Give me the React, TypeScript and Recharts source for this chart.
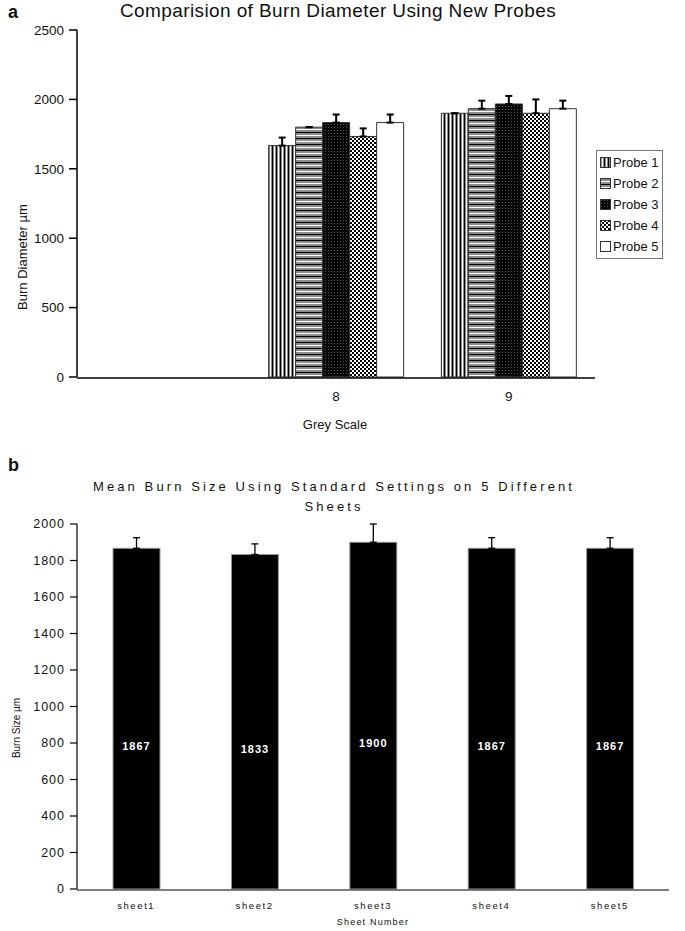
import React from 'react';
import { BarChart, Bar, XAxis, YAxis, ErrorBar, Legend, LabelList } from 'recharts';

// ---------- Panel a data ----------
const greyScales = ['', '8', '9'];
const probeNames = ['Probe 1', 'Probe 2', 'Probe 3', 'Probe 4', 'Probe 5'];
const probe1 = [null, 1667, 1900];
const probe2 = [null, 1800, 1933];
const probe3 = [null, 1833, 1967];
const probe4 = [null, 1733, 1900];
const probe5 = [null, 1833, 1933];
const probe1Err = [null, 58, 0];
const probe2Err = [null, 0, 58];
const probe3Err = [null, 58, 58];
const probe4Err = [null, 58, 100];
const probe5Err = [null, 58, 58];
const yTicksA = [0, 500, 1000, 1500, 2000, 2500];
const boundTicksA = [0, 1, 2, 3];

// ---------- Panel b data ----------
const sheets = ['sheet1', 'sheet2', 'sheet3', 'sheet4', 'sheet5'];
const sheetMeans = [1867, 1833, 1900, 1867, 1867];
const sheetErr = [58, 58, 100, 58, 58];
const yTicksB = [0, 200, 400, 600, 800, 1000, 1200, 1400, 1600, 1800, 2000];
const boundTicksB = [0, 1, 2, 3, 4, 5];

const probeValues = [probe1, probe2, probe3, probe4, probe5];
const probeErrors = [probe1Err, probe2Err, probe3Err, probe4Err, probe5Err];

const dataA = greyScales.map((g, i) => {
  const row: any = { grey: g };
  probeValues.forEach((vals, k) => {
    row['p' + k] = vals[i];
    const e = probeErrors[k][i];
    row['e' + k] = e == null ? null : [0, e];
  });
  return row;
});

const dataB = sheets.map((s, i) => ({ sheet: s, mean: sheetMeans[i], err: [0, sheetErr[i]] }));

const FONT = '"Liberation Sans", Arial, Helvetica, sans-serif';

const Patterns = () => (
  <defs>
    <pattern id="pat0" width="4" height="4" patternUnits="userSpaceOnUse">
      <rect width="4" height="4" fill="#8c8c8c" />
      <rect x="0" width="1" height="4" fill="#000" />
      <rect x="2" width="1" height="4" fill="#fff" />
    </pattern>
    <pattern id="pat1" width="4" height="6" patternUnits="userSpaceOnUse">
      <rect width="4" height="6" fill="#8c8c8c" />
      <rect y="0" width="4" height="1" fill="#000" />
      <rect y="3" width="4" height="1" fill="#fff" />
    </pattern>
    <pattern id="pat2" width="3" height="3" patternUnits="userSpaceOnUse">
      <rect width="3" height="3" fill="#050505" />
      <rect x="1" y="1" width="1" height="1" fill="#555" />
    </pattern>
    <pattern id="pat3" width="4" height="4" patternUnits="userSpaceOnUse">
      <rect width="4" height="4" fill="#fff" />
      <rect x="0" y="0" width="2" height="2" fill="#000" />
      <rect x="2" y="2" width="2" height="2" fill="#000" />
    </pattern>
    <pattern id="pat4" width="4" height="4" patternUnits="userSpaceOnUse">
      <rect width="4" height="4" fill="#fff" />
    </pattern>
  </defs>
);

const renderLegendA = () => (
  <div
    style={{
      border: '1px solid #777',
      background: '#fff',
      padding: '1px 3px',
      fontFamily: FONT,
      fontSize: 13,
      color: '#111',
      lineHeight: '21px',
    }}
  >
    {probeNames.map((n, i) => (
      <div key={n} style={{ display: 'flex', alignItems: 'center', height: 21, whiteSpace: 'nowrap' }}>
        <svg width={11} height={11} style={{ display: 'block' }}>
          <rect x={0.5} y={0.5} width={10} height={10} fill={`url(#pat${i})`} stroke="#333" />
        </svg>
        <span style={{ marginLeft: 2 }}>{n}</span>
      </div>
    ))}
  </div>
);

const yLabelA = (props: any) => {
  const { viewBox } = props;
  const cx = viewBox.x + 22;
  const cy = 257;
  return (
    <text
      x={cx}
      y={cy}
      transform={`rotate(-90 ${cx} ${cy})`}
      textAnchor="middle"
      dominantBaseline="central"
      fontFamily={FONT}
      fontSize={13}
      fill="#111"
    >
      Burn Diameter µm
    </text>
  );
};

const xLabelA = (props: any) => {
  const { viewBox } = props;
  return (
    <text
      x={335}
      y={viewBox.y + 47}
      textAnchor="middle"
      dominantBaseline="central"
      fontFamily={FONT}
      fontSize={13}
      fill="#111"
    >
      Grey Scale
    </text>
  );
};

const yLabelB = (props: any) => {
  const { viewBox } = props;
  const cx = viewBox.x + 16;
  const cy = 258;
  return (
    <text
      x={cx}
      y={cy}
      transform={`rotate(-90 ${cx} ${cy})`}
      textAnchor="middle"
      dominantBaseline="central"
      fontFamily={FONT}
      fontSize={10}
      fill="#111"
    >
      Burn Size µm
    </text>
  );
};

const xLabelB = (props: any) => {
  const { viewBox } = props;
  return (
    <text
      x={viewBox.x + viewBox.width / 2}
      y={viewBox.y + 33}
      textAnchor="middle"
      dominantBaseline="central"
      fontFamily={FONT}
      fontSize={9}
      letterSpacing={1.2}
      fill="#111"
    >
      Sheet Number
    </text>
  );
};

const sheetLabel = (props: any) => {
  const { x, y, width, height, value } = props;
  return (
    <text
      x={x + width / 2}
      y={y + height * 0.58}
      textAnchor="middle"
      dominantBaseline="central"
      fill="#fff"
      fontFamily={FONT}
      fontSize={11}
      fontWeight="bold"
      letterSpacing={1}
    >
      {value}
    </text>
  );
};

export default function App() {
  return (
    <div style={{ position: 'absolute', left: 0, top: 0, width: 685, height: 931, background: '#fff', fontFamily: FONT }}>
      {/* Panel a */}
      <div style={{ position: 'absolute', left: 8, top: 2, fontSize: 18, fontWeight: 'bold', color: '#111' }}>a</div>
      <div
        style={{
          position: 'absolute',
          left: 0,
          top: 0,
          width: 676,
          textAlign: 'center',
          fontSize: 19,
          letterSpacing: 0.4,
          color: '#111',
        }}
      >
        Comparision of Burn Diameter Using New Probes
      </div>
      <div style={{ position: 'absolute', left: 0, top: 0 }}>
        <BarChart width={685} height={450} data={dataA} margin={{ top: 30, right: 90, bottom: 71, left: 0 }} barGap={0}>
          <Patterns />
          <XAxis
            xAxisId="bound"
            type="number"
            domain={[0, greyScales.length]}
            ticks={boundTicksA}
            height={1}
            tick={false}
            tickSize={7}
            axisLine={{ stroke: '#000', strokeWidth: 1.5 }}
            tickLine={{ stroke: '#000', strokeWidth: 1.5 }}
            allowDataOverflow
          />
          <XAxis
            dataKey="grey"
            height={1}
            axisLine={false}
            tickLine={false}
            tickSize={6}
            tickMargin={8}
            tick={{ fill: '#111', fontSize: 13.5, fontFamily: FONT }}
            interval={0}
            label={xLabelA}
          />
          <YAxis
            width={77}
            domain={[0, 2500]}
            ticks={yTicksA}
            tickSize={8}
            tickMargin={5}
            axisLine={{ stroke: '#000', strokeWidth: 1.5 }}
            tickLine={{ stroke: '#000', strokeWidth: 1.5 }}
            tick={{ fill: '#111', fontSize: 13.5, fontFamily: FONT }}
            label={yLabelA}
          />
          {probeNames.map((n, k) => (
            <Bar
              key={n}
              name={n}
              dataKey={'p' + k}
              fill={`url(#pat${k})`}
              stroke="#333"
              strokeWidth={1}
              barSize={27}
              isAnimationActive={false}
            >
              <ErrorBar dataKey={'e' + k} width={3.5} stroke="#000" strokeWidth={2} direction="y" />
            </Bar>
          ))}
          <Legend
            layout="vertical"
            align="center"
            verticalAlign="middle"
            wrapperStyle={{ left: 596, top: 150, width: 'auto', height: 'auto' }}
            content={renderLegendA}
          />
        </BarChart>
      </div>

      {/* Panel b */}
      <div style={{ position: 'absolute', left: 8, top: 455, fontSize: 18, fontWeight: 'bold', color: '#111' }}>b</div>
      <div
        style={{
          position: 'absolute',
          left: 0,
          top: 477,
          width: 668,
          textAlign: 'center',
          fontSize: 13,
          letterSpacing: 3.1,
          lineHeight: '20px',
          color: '#111',
        }}
      >
        Mean Burn Size Using Standard Settings on 5 Different
        <br />
        Sheets
      </div>
      <div style={{ position: 'absolute', left: 0, top: 470 }}>
        <BarChart width={685} height={461} data={dataB} margin={{ top: 54, right: 16, bottom: 40, left: 0 }}>
          <XAxis
            xAxisId="bound"
            type="number"
            domain={[0, sheets.length]}
            ticks={boundTicksB}
            height={1}
            tick={false}
            tickSize={5}
            axisLine={{ stroke: '#000', strokeWidth: 1.2 }}
            tickLine={{ stroke: '#000', strokeWidth: 1.2 }}
            allowDataOverflow
          />
          <XAxis
            dataKey="sheet"
            height={1}
            axisLine={false}
            tickLine={false}
            tickSize={5}
            tickMargin={8}
            interval={0}
            tick={{ fill: '#111', fontSize: 9.5, fontFamily: FONT, letterSpacing: 1.6 }}
            label={xLabelB}
          />
          <YAxis
            width={77}
            domain={[0, 2000]}
            ticks={yTicksB}
            tickSize={7}
            tickMargin={5}
            axisLine={{ stroke: '#000', strokeWidth: 1.2 }}
            tickLine={{ stroke: '#000', strokeWidth: 1.2 }}
            tick={{ fill: '#111', fontSize: 12.5, fontFamily: FONT, letterSpacing: 1 }}
            label={yLabelB}
          />
          <Bar dataKey="mean" fill="#000" stroke="#999" strokeWidth={1} barSize={47} isAnimationActive={false}>
            <ErrorBar dataKey="err" width={3.5} stroke="#000" strokeWidth={1.3} direction="y" />
            <LabelList dataKey="mean" content={sheetLabel} />
          </Bar>
        </BarChart>
      </div>
    </div>
  );
}
